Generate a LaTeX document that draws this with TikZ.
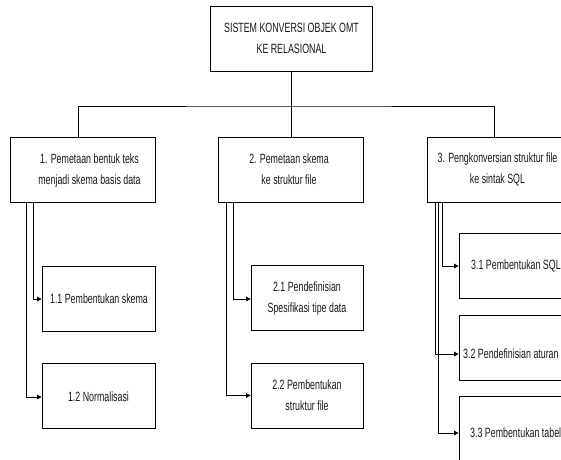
\documentclass[tikz,border=0pt]{standalone}
\usepackage{fontspec}
\setmainfont{Liberation Sans}[FakeStretch=0.66]
\usetikzlibrary{arrows.meta,shadows}
\begin{document}
\begin{tikzpicture}[x=1pt,y=-1pt,
  box/.style={draw=black, line width=0.8pt, fill=white, minimum height=65pt, inner sep=0pt,
    drop shadow={shadow xshift=0.9pt, shadow yshift=-0.9pt, fill=black!80, opacity=1}},
  lbl/.style={font=\fontsize{13.4}{21}\selectfont, align=center, inner sep=0pt, text=black!90},
  link/.style={line width=0.8pt, draw=black},
  arr/.style={link, -{Triangle[length=4.5pt,width=4.5pt]}}]
\useasboundingbox (0,0) rectangle (561,459);
\clip (0,0) rectangle (561,459);

% root
\node[box, minimum width=162pt] (top) at (291,38.5) {};
\node[lbl] (ttop) at (291.5,38.5) {SISTEM KONVERSI OBJEK OMT\\KE RELASIONAL};

% first level
\node[box, minimum width=145pt] (b1) at (82.5,169.5) {};
\node[box, minimum width=145pt] (b2) at (291,169.5) {};
\node[box, minimum width=135pt] (b3) at (494.5,169.5) {};
\node[lbl] (t1) at (89.5,171) {1. Pemetaan bentuk teks\\menjadi skema basis data};
\node[lbl] (t2) at (289,169.5) {2. Pemetaan skema\\ke struktur file};
\node[lbl] (t3) at (497.5,169.5) {3. Pengkonversian struktur file\\ke sintak SQL};

% second level
\node[box, minimum width=113pt] (b11) at (98.5,298.5) {};
\node[box, minimum width=113pt] (b12) at (98.5,395.5) {};
\node[box, minimum width=112pt] (b21) at (307,298) {};
\node[box, minimum width=112pt] (b22) at (307,395.5) {};
\node[box, minimum width=116pt] (b31) at (517,265.5) {};
\node[box, minimum width=116pt] (b32) at (517,347.5) {};
\node[box, minimum width=116pt] (b33) at (517,428.5) {};

\node[lbl] (t11) at (99,299) {1.1 Pembentukan skema};
\node[lbl] (t12) at (98.5,397) {1.2 Normalisasi};
\node[lbl] (t21) at (307,299) {2.1 Pendefinisian\\Spesifikasi tipe data};
\node[lbl] (t22) at (307,395.5) {2.2 Pembentukan\\struktur file};
\node[lbl, anchor=west] (t31) at (471,266) {3.1 Pembentukan SQL};
\node[lbl, anchor=west] (t32) at (463,354) {3.2 Pendefinisian aturan};
\node[lbl, anchor=west] (t33) at (470,433) {3.3 Pembentukan tabel};

% tree connectors
\coordinate (bus) at (291,106);
\draw[link] (top.south) -- (b2.north);
\draw[link] ([xshift=-4pt]b1.north) |- (bus) -| (b3.north);

% sub-process arrows
\draw[arr] ([xshift=24pt]b1.south west) |- (b11.west |- t11);
\draw[arr] ([xshift=17pt]b1.south west) |- (b12.west |- t12);
\draw[arr] ([xshift=15.5pt]b2.south west) |- (b21.west |- t21);
\draw[arr] ([xshift=8.5pt]b2.south west) |- (b22.west |- t22);
\draw[arr] ([xshift=16pt]b3.south west) |- (b31.west |- t31);
\draw[arr] ([xshift=9pt]b3.south west) |- (b32.west |- t32);
\draw[arr] ([xshift=12pt]b3.south west) |- (b33.west |- t33);
\end{tikzpicture}
\end{document}
